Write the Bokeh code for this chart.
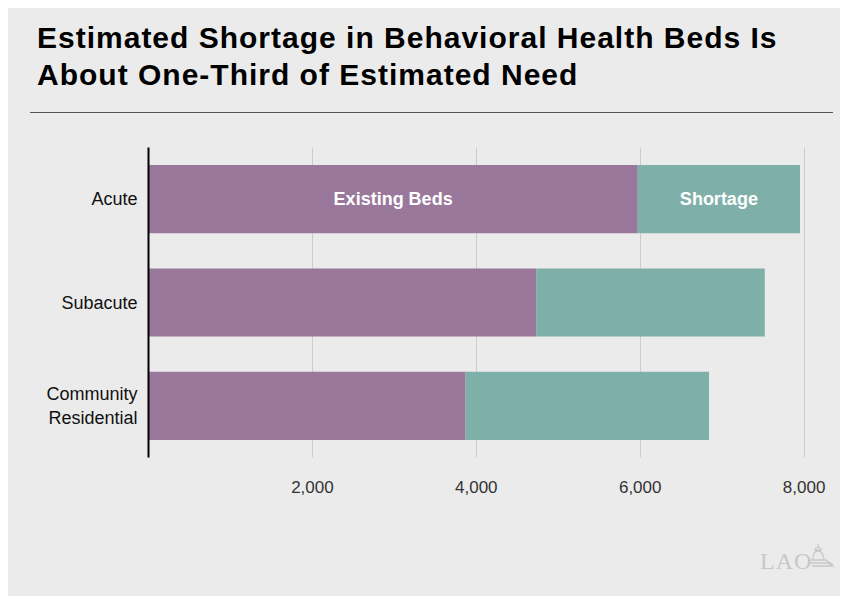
from bokeh.plotting import figure
from bokeh.models import (FactorRange, Range1d, FixedTicker, NumeralTickFormatter,
                          ColumnDataSource, Div)
from bokeh.layouts import column
from bokeh.core.properties import value
from bokeh.embed import file_html
from bokeh.resources import INLINE

# ---- data ----
categories = ["Acute", "Subacute", "Community\nResidential"]
existing_beds = [5970, 4730, 3870]
shortage = [1980, 2790, 2970]
x_ticks = [2000, 4000, 6000, 8000]
series_labels = ["Existing Beds", "Shortage"]
title_lines = ["Estimated Shortage in Behavioral Health Beds Is",
               "About One-Third of Estimated Need"]
logo_text = "LAO"

BG = "#ebebeb"
PURPLE = "#9a789c"
TEAL = "#7eb0a9"
FONT = "Liberation Sans"

# ---- header (title + rule) ----
header_html = (
    '<div style="width:803px;height:105px;margin-left:22px;border-bottom:1.5px solid #555555;">'
    '<div style="padding-top:11px;padding-left:7px;font-family:\'Liberation Sans\';font-weight:bold;'
    'font-size:30px;line-height:37px;color:#000000;letter-spacing:1px;white-space:nowrap;">'
    f'{title_lines[0]}<br>{title_lines[1]}</div></div>'
)
header = Div(text=header_html, width=832, height=112, margin=0)

# ---- chart ----
src = ColumnDataSource(dict(cat=categories, existing=existing_beds, shortage=shortage))

p = figure(width=832, height=405, output_backend="svg", toolbar_location=None,
           y_range=FactorRange(factors=list(reversed(categories)), range_padding=0),
           x_range=Range1d(0, 8200), margin=0,
           min_border_left=140, min_border_right=20, min_border_top=27, min_border_bottom=68)
p.background_fill_color = None
p.border_fill_color = None
p.outline_line_color = None

p.hbar_stack(["existing", "shortage"], y="cat", height=0.66, source=src,
             color=[PURPLE, TEAL], line_color=None)

p.xaxis.ticker = FixedTicker(ticks=x_ticks)
p.xaxis.formatter = NumeralTickFormatter(format="0,0")
p.xaxis.axis_line_color = None
p.xaxis.major_tick_line_color = None
p.xaxis.minor_tick_line_color = None
p.xaxis.major_label_standoff = 17
p.xaxis.major_label_text_font = FONT
p.xaxis.major_label_text_font_size = "17px"
p.xaxis.major_label_text_color = "#333333"

p.yaxis.axis_line_color = "#000000"
p.yaxis.axis_line_width = 2
p.yaxis.major_tick_line_color = None
p.yaxis.minor_tick_line_color = None
p.yaxis.major_label_standoff = 5
p.yaxis.major_label_text_font = FONT
p.yaxis.major_label_text_font_size = "18px"
p.yaxis.major_label_text_color = "#111111"

p.ygrid.grid_line_color = None
p.xgrid.ticker = FixedTicker(ticks=x_ticks)
p.xgrid.grid_line_color = "#cccccc"
p.xgrid.grid_line_width = 1

lbl_src = ColumnDataSource(dict(
    x=[existing_beds[0] / 2, existing_beds[0] + shortage[0] / 2],
    y=[categories[0], categories[0]],
    t=series_labels))
p.text(x="x", y="y", text="t", source=lbl_src, text_align="center", text_baseline="middle",
       text_color="white", text_font=value(FONT), text_font_style="bold",
       text_font_size="18px")

# ---- footer (logo) ----
footer_html = (
    '<div style="position:relative;width:832px;height:71px;">'
    '<span style="position:absolute;left:752px;top:24px;font-family:\'Liberation Serif\';'
    f'font-size:24px;line-height:24px;letter-spacing:1px;color:#c8c8c8;">{logo_text}</span>'
    '<svg width="26" height="26" style="position:absolute;left:801px;top:18px;" viewBox="0 0 26 26">'
    '<g fill="none" stroke="#c8c8c8" stroke-width="1.3">'
    '<path d="M9 4 L9 1 M9 4 Q6 5 6 7 L12 7 Q12 5 9 4"/>'
    '<path d="M4 16 Q4 8 9 8 Q14 8 15 16"/>'
    '<path d="M2 17 L17 17 L24 22 M1 20 L19 20 L25 24 M3 23 L23 23"/>'
    '</g></svg></div>'
)
footer = Div(text=footer_html, width=832, height=71, margin=0)

layout = column(header, p, footer, spacing=0, margin=(8, 8, 8, 8),
                styles={"background-color": BG})

open("out.html", "w").write(file_html(layout, INLINE))
